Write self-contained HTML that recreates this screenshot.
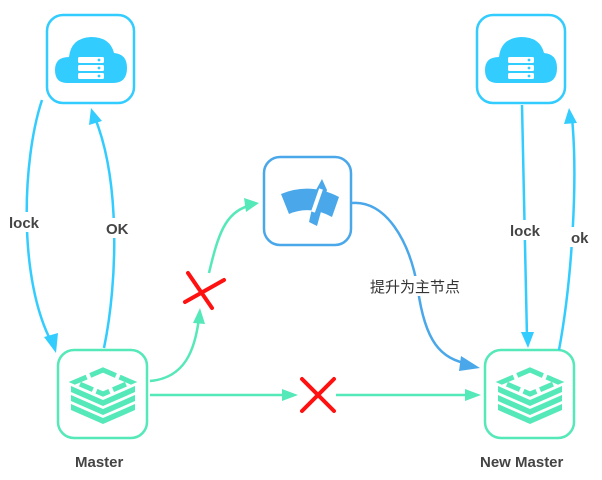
<!DOCTYPE html>
<html><head><meta charset="utf-8"><style>
html,body{margin:0;padding:0;background:#fff;}
svg{display:block;}
text{font-family:"Liberation Sans","Noto Sans CJK SC",sans-serif;font-weight:bold;fill:#444;}
</style></head><body>
<svg width="602" height="480" viewBox="0 0 602 480" xmlns="http://www.w3.org/2000/svg">
<defs>
<g id="cloud">
  <path d="M-24,23 Q-36,23 -36,10 Q-36,-3 -22,-3 Q-20,-22 0,-23 Q19,-23 23,-7 Q36,-6 36,8 Q36,23 22,23 Z" fill="#33ccff"/>
  <rect x="-13" y="-3" width="26" height="6" rx="1.5" fill="#fff"/>
  <rect x="-13" y="5" width="26" height="6" rx="1.5" fill="#fff"/>
  <rect x="-13" y="13" width="26" height="6" rx="1.5" fill="#fff"/>
  <circle cx="8" cy="0" r="1.4" fill="#33ccff"/><circle cx="8" cy="8" r="1.4" fill="#33ccff"/><circle cx="8" cy="16" r="1.4" fill="#33ccff"/>
</g>
<g id="redis" fill="#55e8b8">
  <polygon points="0,-20 28,-8 0,4 -28,-8" fill="none" stroke="#55e8b8" stroke-width="5" stroke-dasharray="14,4"/>
  <polygon points="-32,-4 0,10 32,-4 32,2 0,16 -32,2"/>
  <polygon points="-32,5 0,19 32,5 32,11 0,25 -32,11"/>
  <polygon points="-32,14 0,28 32,14 32,20 0,34 -32,20"/>
</g>
</defs>

<rect x="47" y="15" width="87" height="88" rx="16" fill="#fff" stroke="#33ccff" stroke-width="2.5"/>
<rect x="477" y="15" width="88" height="88" rx="16" fill="#fff" stroke="#33ccff" stroke-width="2.5"/>
<rect x="264" y="157" width="87" height="88" rx="16" fill="#fff" stroke="#4aa8ea" stroke-width="2.5"/>
<rect x="58" y="350" width="89" height="88" rx="16" fill="#fff" stroke="#55e8b8" stroke-width="2.5"/>
<rect x="485" y="350" width="89" height="88" rx="16" fill="#fff" stroke="#55e8b8" stroke-width="2.5"/>

<use href="#cloud" x="91" y="60"/>
<use href="#cloud" x="521" y="60"/>
<use href="#redis" x="103" y="390"/>
<use href="#redis" x="530" y="390"/>

<!-- wiper icon -->
<path d="M281,194 Q310,182 339,197 L332,217 Q310,205 289,214 Z" fill="#4aa8ea"/>
<path d="M322,179 L327,190 L317,226 L309,222 L316,190 Z" fill="#4aa8ea"/>
<line x1="321" y1="189" x2="313" y2="212" stroke="#fff" stroke-width="4"/>

<!-- left lock / OK -->
<path d="M42,100 C22,160 18,280 52,343" fill="none" stroke="#33ccff" stroke-width="2.5"/>
<polygon points="56,353 44,337 58,333" fill="#33ccff"/>
<path d="M104,348 C118,280 120,180 95,118" fill="none" stroke="#33ccff" stroke-width="2.5"/>
<polygon points="91,108 89,125 102,121" fill="#33ccff"/>
<rect x="8" y="212" width="36" height="20" fill="#fff"/>
<text x="9" y="228" font-size="15">lock</text>
<rect x="104" y="218" width="28" height="20" fill="#fff"/>
<text x="106" y="234" font-size="15">OK</text>

<!-- right lock / ok -->
<path d="M522,105 L527,338" fill="none" stroke="#33ccff" stroke-width="2.5"/>
<polygon points="528,348 521,332 534,332" fill="#33ccff"/>
<path d="M559,350 C572,280 578,180 572,118" fill="none" stroke="#33ccff" stroke-width="2.5"/>
<polygon points="569,108 564,124 577,123" fill="#33ccff"/>
<rect x="508" y="220" width="38" height="20" fill="#fff"/>
<text x="510" y="236" font-size="15">lock</text>
<rect x="569" y="227" width="26" height="20" fill="#fff"/>
<text x="571" y="243" font-size="15">ok</text>

<!-- blue promote curve -->
<path d="M352,203 C385,200 410,240 418,290 C425,340 440,360 470,364" fill="none" stroke="#4aa8ea" stroke-width="2.5"/>
<polygon points="480,368 461,356 459,371" fill="#4aa8ea"/>
<rect x="368" y="276" width="100" height="20" fill="#fff"/>
<text x="370" y="292" font-size="15" style="font-weight:normal;fill:#333">提升为主节点</text>

<!-- green curve with X -->
<path d="M150,381 C185,378 195,350 199,318" fill="none" stroke="#55e8b8" stroke-width="2.5"/>
<polygon points="200,308 193,323 205,324" fill="#55e8b8"/>
<path d="M209,273 C218,235 225,213 248,206" fill="none" stroke="#55e8b8" stroke-width="2.5"/>
<polygon points="259,203 244,198 246,212" fill="#55e8b8"/>
<path d="M188,273 L212,308 M185,302 L224,280" stroke="#ff1111" stroke-width="4" stroke-linecap="round"/>

<!-- green straight with X -->
<line x1="150" y1="395" x2="288" y2="395" stroke="#55e8b8" stroke-width="2.5"/>
<polygon points="298,395 282,389 282,401" fill="#55e8b8"/>
<line x1="336" y1="395" x2="470" y2="395" stroke="#55e8b8" stroke-width="2.5"/>
<polygon points="481,395 465,389 465,401" fill="#55e8b8"/>
<path d="M302,379 L334,411 M334,379 L302,411" stroke="#ff1111" stroke-width="4" stroke-linecap="round"/>

<text x="75" y="467" font-size="15" fill="#555">Master</text>
<text x="480" y="467" font-size="15" fill="#555">New Master</text>
</svg>
</body></html>
